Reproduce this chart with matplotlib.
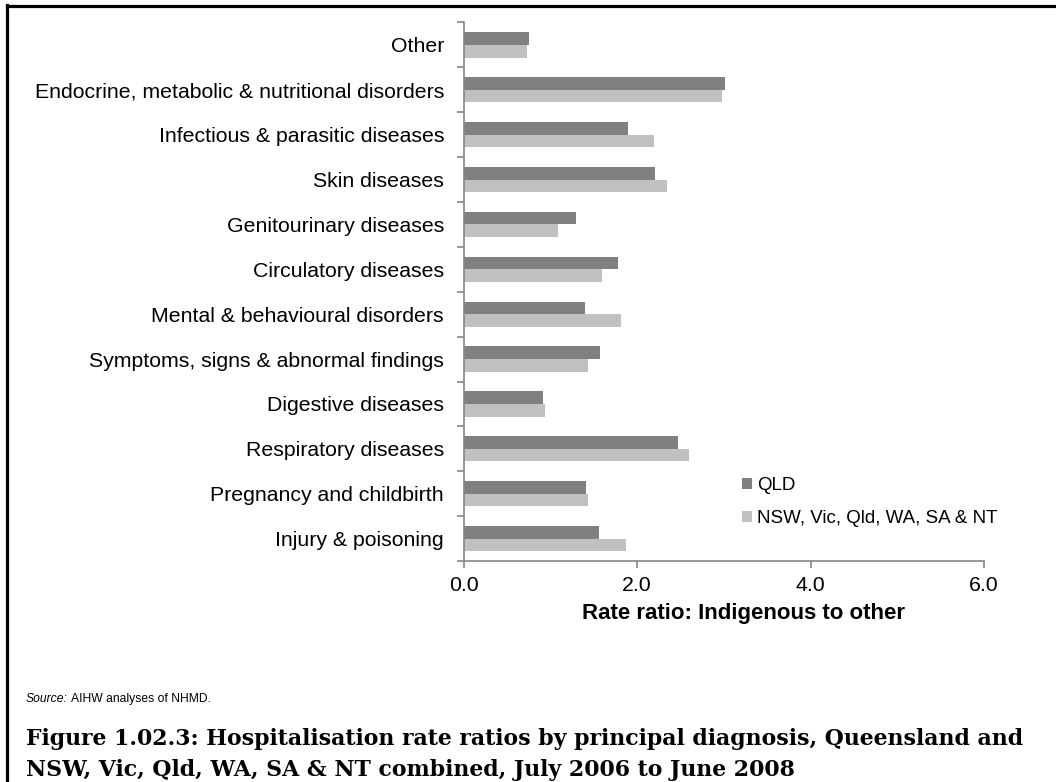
import numpy as np
import matplotlib
matplotlib.use('Agg')
import matplotlib.pyplot as plt
from matplotlib.lines import Line2D

# 数据（从上到下的顺序）
categories = ['Other',
              'Endocrine, metabolic & nutritional disorders',
              'Infectious & parasitic diseases',
              'Skin diseases',
              'Genitourinary diseases',
              'Circulatory diseases',
              'Mental & behavioural disorders',
              'Symptoms, signs & abnormal findings',
              'Digestive diseases',
              'Respiratory diseases',
              'Pregnancy and childbirth',
              'Injury & poisoning']
qld = [0.75, 3.02, 1.90, 2.21, 1.30, 1.78, 1.40, 1.57, 0.92, 2.47, 1.41, 1.56]
combined = [0.73, 2.98, 2.20, 2.35, 1.09, 1.60, 1.81, 1.43, 0.94, 2.60, 1.44, 1.87]
series_names = ['QLD', 'NSW, Vic, Qld, WA, SA & NT']
x_ticks = [0.0, 2.0, 4.0, 6.0]

W, H = 1056, 782
plt.rcParams['font.family'] = ['Liberation Sans', 'DejaVu Sans']
fig = plt.figure(figsize=(W / 100, H / 100), dpi=100)


def fx(px):
    return px / W


def fy(py):
    return 1 - py / H


# 坐标轴位置（像素）
ax_l, ax_r, ax_t, ax_b = 463.5, 984, 22.5, 561
ax = fig.add_axes([fx(ax_l), fy(ax_b), fx(ax_r - ax_l), (ax_b - ax_t) / H])

n = len(categories)
y = np.arange(n)[::-1]
bh = 0.28
ax.barh(y + bh / 2, qld, height=bh, color='#808080', label=series_names[0])
ax.barh(y - bh / 2, combined, height=bh, color='#c0c0c0', label=series_names[1])

ax.set_xlim(0, 6)
ax.set_ylim(-0.5, n - 0.5)
ax.set_xticks(x_ticks)
ax.set_xticklabels(['%.1f' % v for v in x_ticks])
ax.set_yticks(y)
ax.set_yticklabels(categories)
ax.set_yticks(np.arange(-0.5, n, 1), minor=True)
ax.tick_params(axis='y', which='major', length=0, pad=14, labelsize=15.3)
ax.tick_params(axis='y', which='minor', length=5, color='#868686', width=1.2)
ax.tick_params(axis='x', length=5, color='#868686', width=1.2, pad=6, labelsize=15.3)
for s in ['top', 'right']:
    ax.spines[s].set_visible(False)
for s in ['left', 'bottom']:
    ax.spines[s].set_color('#868686')
    ax.spines[s].set_linewidth(1.2)

fig.legend(loc='upper left', bbox_to_anchor=(fx(742), fy(477)), frameon=False,
           fontsize=13.5, handlelength=0.54, handleheight=0.54, handletextpad=0.25,
           labelspacing=0.85, borderpad=0, borderaxespad=0)

fig.text(fx(744), fy(613), 'Rate ratio: Indigenous to other', ha='center', va='center',
         fontsize=16, fontweight='bold')

# 来源
r = fig.canvas.get_renderer()
t1 = fig.text(fx(26), fy(699), 'Source:', style='italic', fontsize=8.7, va='center')
w1 = t1.get_window_extent(renderer=r).width
fig.text(fx(26 + w1 + 3), fy(699), 'AIHW analyses of NHMD.', fontsize=8.7, va='center')

# 标题（按宽度自适应字号）
title_lines = ['Figure 1.02.3: Hospitalisation rate ratios by principal diagnosis, Queensland and',
               'NSW, Vic, Qld, WA, SA & NT combined, July 2006 to June 2008']
probe = fig.text(0, 0, title_lines[0], family='DejaVu Serif', fontweight='bold', fontsize=15)
tw = probe.get_window_extent(renderer=r).width
probe.remove()
tsize = 15 * 1001 / tw
for i, line in enumerate(title_lines):
    fig.text(fx(26), fy(745 + 31 * i), line, family='DejaVu Serif', fontweight='bold',
             fontsize=tsize, va='baseline')

# 外框
fig.add_artist(Line2D([fx(7), 1], [fy(5.5), fy(5.5)], color='black', lw=2.3))
fig.add_artist(Line2D([fx(7), fx(7)], [fy(5), 0], color='black', lw=2.3))

fig.savefig('out.png', dpi=100)
